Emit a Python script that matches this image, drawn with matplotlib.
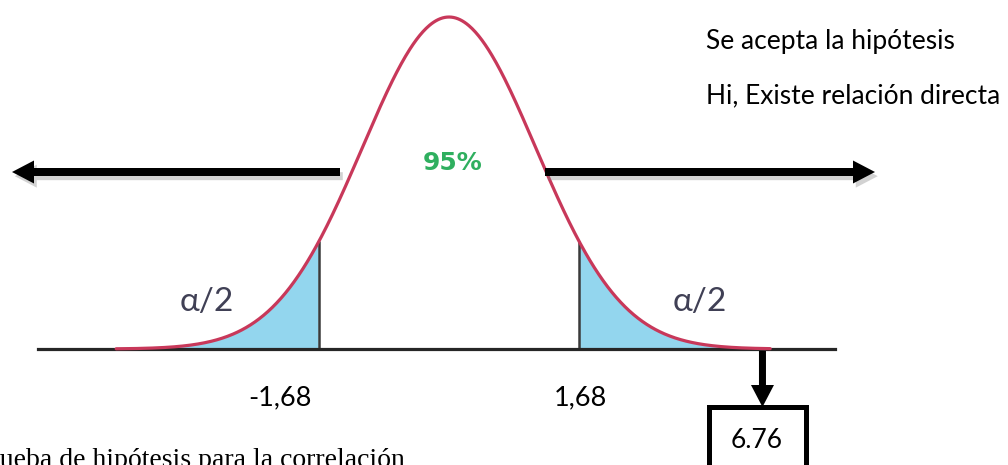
"""
Curva normal con regiones críticas (prueba de hipótesis para la correlación).

Salida:
    out.png (1008 x 465 px)
"""

import matplotlib

matplotlib.use("Agg")

import matplotlib.patheffects as pe
import matplotlib.pyplot as plt
import numpy as np
from matplotlib.patches import FancyArrow, Rectangle


# ---------------------------------------------------------------------------
# Datos
# ---------------------------------------------------------------------------

CRITICAL_VALUES = [-1.68, 1.68]
CRITICAL_LABELS = ["-1,68", "1,68"]
CONFIDENCE_LABEL = "95%"
TAIL_LABEL = "α/2"
T_CALCULATED_LABEL = "6.76"
DECISION_TEXTS = ["Se acepta la hipótesis", "Hi, Existe relación directa"]
CAPTION = "Prueba de hipótesis para la correlación"

# extensión dibujada de la curva (en unidades z) y su desviación de dibujo
CURVE_LEFT = -4.3
CURVE_RIGHT = 4.15
CURVE_SIGMA = 1.12
# el valor calculado no está a escala: se marca al final de la cola derecha
T_MARK_Z = 4.05

# ---------------------------------------------------------------------------
# Estilo / disposición
# ---------------------------------------------------------------------------

FIG_W, FIG_H, DPI = 10.08, 4.65, 100
CENTER_PX = 449
BASE_PX = 349
PX_PER_Z = 77.4
PX_PER_DENSITY = 932

CURVE_COLOR = "#C8385A"
FILL_COLOR = "#93D6EE"
CRIT_LINE_COLOR = "#3A3A3A"
TAIL_TEXT_COLOR = "#404055"
GREEN = "#2FAF5F"

SANS = ["Lato", "DejaVu Sans"]
SERIF = ["Liberation Serif", "DejaVu Serif"]


def px(x_px, y_px):
    """Convierte una posición en píxeles de la imagen a coordenadas de datos."""
    return (x_px - CENTER_PX) / PX_PER_Z, (BASE_PX - y_px) / PX_PER_DENSITY


def normal_density(z):
    return np.exp(-z ** 2 / (2 * CURVE_SIGMA ** 2)) / (CURVE_SIGMA * np.sqrt(2 * np.pi))


def main():
    fig = plt.figure(figsize=(FIG_W, FIG_H), dpi=DPI)
    ax = fig.add_axes([0, 0, 1, 1])
    ax.set_axis_off()

    x_min, y_top = px(0, 0)
    x_max, y_bottom = px(1008, 465)
    ax.set_xlim(x_min, x_max)
    ax.set_ylim(y_bottom, y_top)

    z = np.linspace(CURVE_LEFT, CURVE_RIGHT, 600)
    density = normal_density(z)

    # regiones de rechazo
    left_tail = z <= CRITICAL_VALUES[0]
    right_tail = z >= CRITICAL_VALUES[1]
    ax.fill_between(z[left_tail], 0, density[left_tail], color=FILL_COLOR, lw=0, zorder=1)
    ax.fill_between(z[right_tail], 0, density[right_tail], color=FILL_COLOR, lw=0, zorder=1)

    # líneas críticas
    for crit in CRITICAL_VALUES:
        ax.plot([crit, crit], [0, normal_density(crit)], color=CRIT_LINE_COLOR,
                lw=1.8, zorder=2, solid_capstyle="butt")

    # eje horizontal
    base_l, _ = px(38, BASE_PX)
    base_r, _ = px(835, BASE_PX)
    ax.plot([base_l, base_r], [0, 0], color="#262626", lw=2.3, zorder=3)

    # curva normal
    ax.plot(z, density, color=CURVE_COLOR, lw=2.3, zorder=4, solid_capstyle="round")

    # flechas horizontales
    shadow = [pe.SimplePatchShadow(offset=(2, -3), shadow_rgbFace="gray", alpha=0.35), pe.Normal()]
    arrow_y = px(0, 172)[1]
    shaft_w = 8 / PX_PER_DENSITY
    head_w = 23 / PX_PER_DENSITY
    head_l = 22 / PX_PER_Z
    for start_px, tip_px in [(340, 12), (545, 875)]:
        x0 = px(start_px, 0)[0]
        x1 = px(tip_px, 0)[0]
        arrow = FancyArrow(x0, arrow_y, x1 - x0, 0, width=shaft_w, head_width=head_w,
                           head_length=head_l, length_includes_head=True,
                           color="black", lw=0, zorder=5)
        arrow.set_path_effects(shadow)
        ax.add_patch(arrow)

    # flecha vertical hacia el valor calculado
    y0 = px(0, 351)[1]
    y1 = px(0, 407)[1]
    down = FancyArrow(T_MARK_Z, y0, 0, y1 - y0, width=7 / PX_PER_Z,
                      head_width=23 / PX_PER_Z, head_length=22 / PX_PER_DENSITY,
                      length_includes_head=True, color="black", lw=0, zorder=5)
    ax.add_patch(down)

    # recuadro con el valor calculado
    bx0, by0 = px(709, 407)
    bx1, by1 = px(806, 480)
    box = Rectangle((bx0, by1), bx1 - bx0, by0 - by1, fill=False, ec="black",
                    lw=3.6, zorder=5, clip_on=False, joinstyle="miter")
    ax.add_patch(box)
    tx, ty = px(757, 440)
    ax.text(tx, ty, T_CALCULATED_LABEL, ha="center", va="center", fontsize=19,
            family=SANS, color="black", zorder=6)

    # etiquetas de valores críticos
    for label, x_px in zip(CRITICAL_LABELS, [280, 580]):
        lx, ly = px(x_px, 398)
        ax.text(lx, ly, label, ha="center", va="center", fontsize=19.5, family=SANS,
                color="black")

    # etiquetas de las colas y nivel de confianza
    for x_px in [207, 700]:
        lx, ly = px(x_px, 302)
        ax.text(lx, ly, TAIL_LABEL, ha="center", va="center", fontsize=24, family=SANS,
                color=TAIL_TEXT_COLOR, zorder=6)
    cx, cy = px(453, 163)
    ax.text(cx, cy, CONFIDENCE_LABEL, ha="center", va="center", fontsize=18,
            family=["DejaVu Sans"], weight="bold", color=GREEN, zorder=6)

    # textos de decisión
    for text, y_px in zip(DECISION_TEXTS, [42, 96]):
        dx, dy = px(706, y_px)
        ax.text(dx, dy, text, ha="left", va="center", fontsize=19, family=SANS,
                color="black")

    # título cortado al pie de la figura (como en el original)
    capx, capy = px(405, 467)
    ax.text(capx, capy, CAPTION, ha="right", va="baseline", fontsize=20, family=SERIF,
            color="black", clip_on=False)

    fig.savefig("out.png", dpi=DPI)
    plt.close(fig)


if __name__ == "__main__":
    main()
